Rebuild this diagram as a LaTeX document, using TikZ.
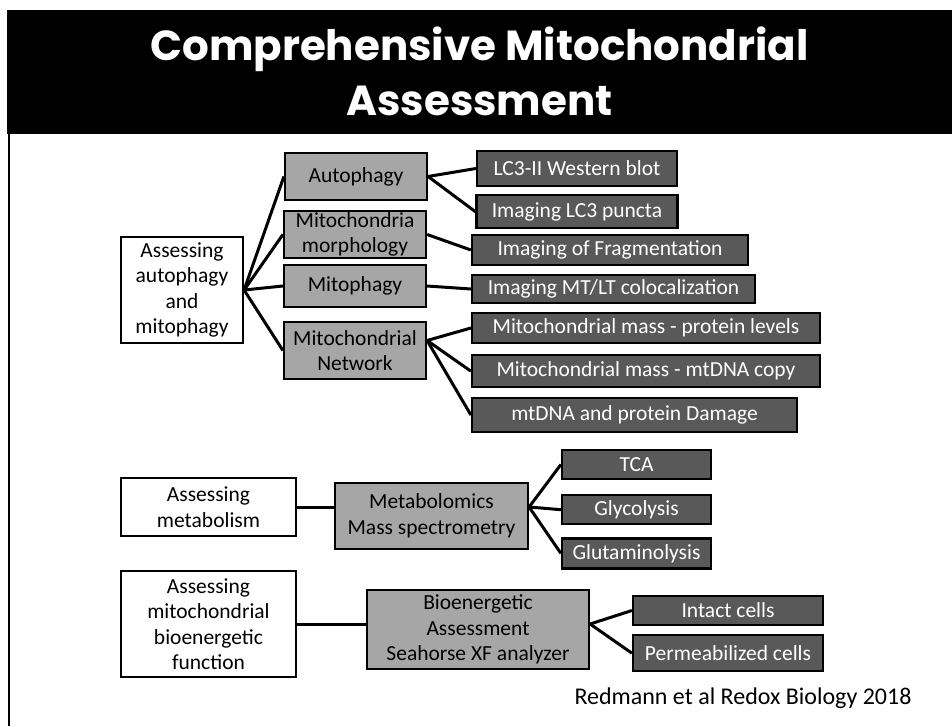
\documentclass[tikz,border=0pt]{standalone}
\usepackage{fontspec}
\setmainfont{Carlito}
\newfontfamily\titlefont{Poppins}
\usetikzlibrary{positioning}
\definecolor{midgrey}{RGB}{166,166,166}
\definecolor{darkgrey}{RGB}{89,89,89}
\newcommand{\bodyfont}{\fontsize{21.5}{25.5}\selectfont}

\begin{document}
\begin{tikzpicture}[
        x=1pt, y=-1pt,
        node distance=7pt,
        topic/.style={rectangle, draw, line width=2.2pt, fill=white, align=center, inner sep=0pt, font=\bodyfont},
        method/.style={topic, fill=midgrey},
        assay/.style={topic, fill=darkgrey, text=white},
        dims/.style 2 args={minimum width=#1pt, minimum height=#2pt},
        link/.style={line width=3pt}
    ]
        \useasboundingbox (0,0) rectangle (952,726);

        %Title band
        \fill[black] (7,10) rectangle (952,134);
        \draw[line width=2.5pt] (9,134) -- (9,726);
        \node[text=white, align=center, font=\titlefont\bfseries\fontsize{42}{55}\selectfont] (title) at (479.5,71) {Comprehensive Mitochondrial\\Assessment};

        % Autophagy and mitophagy
        \node[topic, dims={122}{106}] (auto) at (182,290) {Assessing\\autophagy\\and\\mitophagy};
        \node[method, dims={142}{47}] (autophagy) at (356,176.5) {Autophagy};
        \node[method, dims={142}{47}] (morph) at (355,234.5) {Mitochondria\\morphology};
        \node[method, dims={142}{42}] (mitophagy) at (355,286) {Mitophagy};
        \node[method, dims={142}{57}] (network) at (355,350.5) {Mitochondrial\\Network};

        \node[assay, dims={200}{35}] (western) at (577,168.5) {LC3-II Western blot};
        \node[assay, dims={201}{33}, below=of western] (puncta) {Imaging LC3 puncta};
        \node[assay, dims={276}{30}] (fragment) at (610,250) {Imaging of Fragmentation};
        \node[assay, dims={283}{28}] (coloc) at (613.5,289) {Imaging MT/LT colocalization};
        \node[assay, dims={348}{30}] (protein) at (646,328) {Mitochondrial mass - protein levels};
        \node[assay, dims={348}{32}, below=10pt of protein] (copy) {Mitochondrial mass - mtDNA copy};
        \node[assay, dims={325}{34}] (damage) at (634.5,415) {mtDNA and protein Damage};

        \foreach \m in {autophagy, morph, mitophagy, network}
            \draw[link] (auto.east) -- (\m.west);
        \draw[link] (autophagy.east) -- (western.west);
        \draw[link] (autophagy.east) -- (puncta.west);
        \draw[link] (morph.east) -- (fragment.west);
        \draw[link] (mitophagy.east) -- (coloc.west);
        \foreach \a in {protein, copy, damage}
            \draw[link] ([yshift=10pt]network.east) -- (\a.west);

        % Metabolism
        \node[topic, dims={175}{58}] (metab) at (208.5,507) {Assessing\\metabolism};
        \node[method, dims={193}{66}] (metabo) at (431.5,516) {Metabolomics\\Mass spectrometry};
        \node[assay, dims={149}{29}] (tca) at (636.5,464.5) {TCA};
        \node[assay, dims={149}{29}, below=14pt of tca] (glyco) {Glycolysis};
        \node[assay, dims={149}{30}, below=12pt of glyco] (gluta) {Glutaminolysis};

        \coordinate (methub) at (metabo.east |- metab.east);
        \draw[link] (metab.east) -- (metab.east -| metabo.west);
        \foreach \a in {tca, glyco, gluta}
            \draw[link] (methub) -- (\a.west);

        % Bioenergetics
        \node[topic, dims={175}{106}] (bio) at (208.5,624) {Assessing\\mitochondrial\\bioenergetic\\function};
        \node[method, dims={222}{79}] (seahorse) at (478,629.5) {Bioenergetic\\Assessment\\Seahorse XF analyzer};
        \node[assay, dims={190}{29}] (intact) at (728,610.5) {Intact cells};
        \node[assay, dims={190}{36}, below=8pt of intact] (perm) {Permeabilized cells};

        \coordinate (biohub) at (seahorse.east |- bio.east);
        \draw[link] (bio.east) -- (bio.east -| seahorse.west);
        \draw[link] (biohub) -- (intact.west);
        \draw[link] (biohub) -- (perm.west);

        % Reference
        \node[anchor=west, font=\fontsize{24}{28}\selectfont] (cite) at (571,698) {Redmann et al Redox Biology 2018};
    \end{tikzpicture}
\end{document}
